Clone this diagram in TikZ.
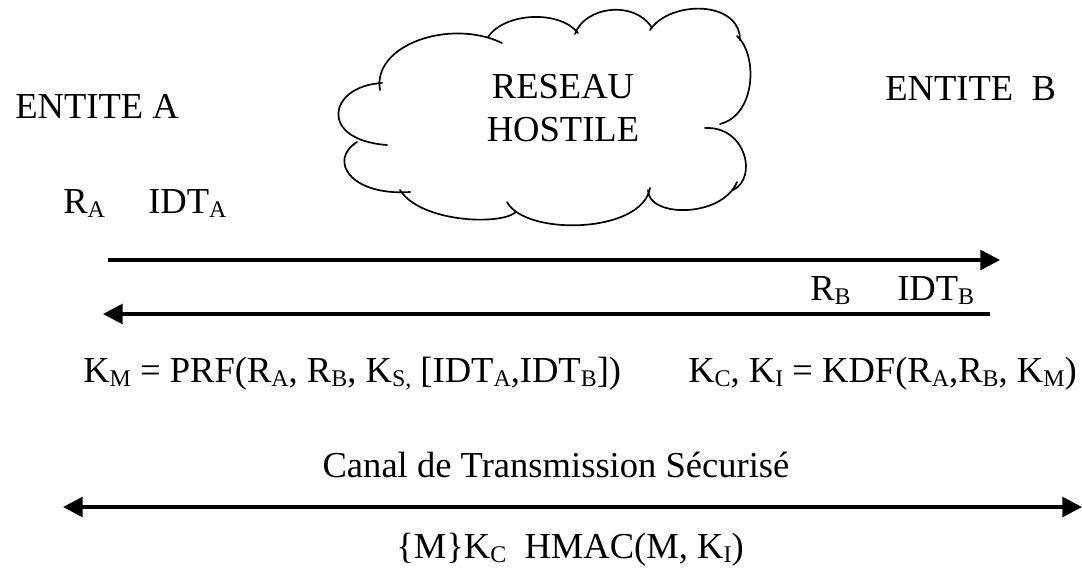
\documentclass[tikz,border=0pt]{standalone}
\usepackage{fontspec}
\setmainfont{Liberation Serif}
\usetikzlibrary{arrows.meta}
\newcommand\sub[1]{\raisebox{-3.5pt}{\fontsize{17}{17}\selectfont #1}}
\begin{document}
\begin{tikzpicture}[
      x=0.025cm, y=-0.025cm,
      lbl/.style={inner sep=0pt, anchor=base west, font=\fontsize{26}{30}\selectfont},
      msg/.style={line width=2.6pt, -{Triangle[length=14pt,width=14pt]}},
      puff/.style={line width=1.2pt, line cap=round},
    ]
    \useasboundingbox (0,0) rectangle (1082,567);
    % les deux entites
    \node[lbl] (entA) at (15,118) {ENTITE A};
    \node[lbl] (entB) at (885,100) {ENTITE\ \ B};
    % le nuage du reseau
    \draw[puff] (380,90) .. controls (372,45) and (450,18) .. (502,43);
    \draw[puff] (488,37) .. controls (505,12) and (560,10) .. (578,33);
    \draw[puff] (575,34) .. controls (585,6) and (635,0) .. (652,28);
    \draw[puff] (650,30) .. controls (670,0) and (740,0) .. (740,40);
    \draw[puff] (737,36) .. controls (758,55) and (756,115) .. (720,124);
    \draw[puff] (705,128) .. controls (746,126) and (758,178) .. (733,190);
    \draw[puff] (648,190) .. controls (648,218) and (722,218) .. (737,182);
    \draw[puff] (507,202) .. controls (525,236) and (642,234) .. (650,188);
    \draw[puff] (400,190) .. controls (420,222) and (500,226) .. (516,212);
    \draw[puff] (357,142) .. controls (328,160) and (350,196) .. (410,192);
    \draw[puff] (382,83) .. controls (328,86) and (318,140) .. (387,145);
    \node[lbl, anchor=center, align=center] (hostile) at (563,108) {RESEAU\\HOSTILE};
    % echange des aleas
    \node[lbl] (rA) at (63,213) {R\sub{A}};
    \node[lbl] (idtA) at (148,213) {IDT\sub{A}};
    \coordinate (m1s) at (108,260);
    \coordinate (m1e) at (1000,260);
    \draw[msg] (m1s) -- (m1e);
    \node[lbl] (rB) at (810,300) {R\sub{B}};
    \node[lbl] (idtB) at (897,300) {IDT\sub{B}};
    \coordinate (m2s) at (990,314);
    \coordinate (m2e) at (103,314);
    \draw[msg] (m2s) -- (m2e);
    % derivation des cles
    \node[lbl] (km) at (83,382) {K\sub{M} = PRF(R\sub{A}, R\sub{B}, K\sub{S,} [IDT\sub{A},IDT\sub{B}])};
    \node[lbl] (kci) at (688,382) {K\sub{C}, K\sub{I} = KDF(R\sub{A},R\sub{B}, K\sub{M})};
    % canal securise
    \node[lbl, anchor=base] (canal) at (556,477) {Canal de Transmission Sécurisé};
    \coordinate (cA) at (63,507);
    \coordinate (cB) at (1082,507);
    \draw[msg, {Triangle[length=14pt,width=14pt]}-{Triangle[length=14pt,width=14pt]}] (cA) -- (cB);
    \node[lbl] (hmac) at (396,558) {\{M\}K\sub{C}\ \ HMAC(M, K\sub{I})};
  \end{tikzpicture}
\end{document}
